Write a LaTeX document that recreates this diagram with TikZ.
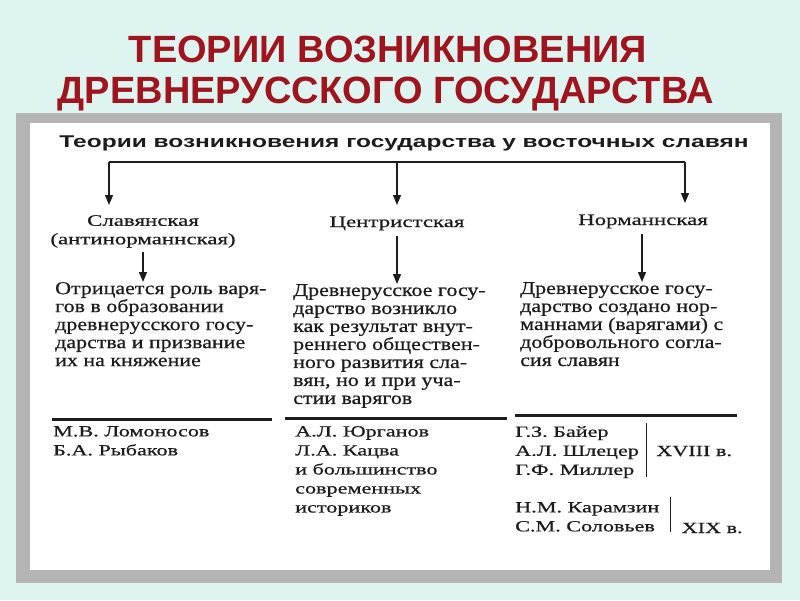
\documentclass[tikz,border=0pt]{standalone}
\usepackage{fontspec}
\setmainfont[FakeStretch=1.22, FakeBold=0.6]{Liberation Serif}
\newfontfamily\wideserif[FakeStretch=1.43, FakeBold=0.6]{Liberation Serif}
\newfontfamily\titlefont{Liberation Sans}
\newfontfamily\headfont[FakeStretch=1.44]{Liberation Sans}
\usetikzlibrary{arrows.meta}

\definecolor{bgcyan}{HTML}{DDF4F0}
\definecolor{framegray}{HTML}{B4B4B4}
\definecolor{titlered}{HTML}{A0141E}
\definecolor{inkgray}{HTML}{1C1C1C}

\tikzset{
  bodytext/.style={anchor=north west, align=left, inner sep=0pt, text=inkgray,
    font=\fontsize{18}{18}\selectfont},
  nametext/.style={anchor=north west, align=left, inner sep=0pt, text=inkgray,
    font=\wideserif\fontsize{15.5}{19}\selectfont},
  theory/.style={anchor=base, align=center, inner sep=0pt, text=inkgray,
    font=\wideserif\fontsize{16}{18.5}\selectfont},
  downarrow/.style={inkgray, line width=1.3pt, -{Stealth[length=10pt, width=8pt, inset=0pt]}},
  rulebar/.style={inkgray, line width=3pt},
}

\begin{document}
\begin{tikzpicture}[x=1pt,y=-1pt]
\useasboundingbox (0,0) rectangle (800,600);
\fill[bgcyan] (0,0) rectangle (800,600);
\fill[framegray] (16,113) rectangle (782,583);
\fill[white] (30,123) rectangle (770,570);

% title
\node[anchor=base, inner sep=0pt, text=titlered, font=\titlefont\bfseries\fontsize{38}{42}\selectfont] (title1) at (388,62) {ТЕОРИИ ВОЗНИКНОВЕНИЯ};
\node[anchor=base, inner sep=0pt, text=titlered, font=\titlefont\bfseries\fontsize{38}{42}\selectfont] (title2) at (386,103) {ДРЕВНЕРУССКОГО ГОСУДАРСТВА};

% header and branching
\node[anchor=base, inner sep=0pt, text=inkgray, font=\headfont\bfseries\fontsize{17}{20}\selectfont] (head) at (404,147) {Теории возникновения государства у восточных славян};
\coordinate (split1) at (109,162);
\coordinate (split2) at (397,162);
\coordinate (split3) at (685,162);
\draw[inkgray, line width=1.6pt] (split1) -- (split3);

\node[theory, anchor=north] (slav) at (143,215) {Славянская\\(антинорманнская)};
\node[theory] (centr) at (397,227) {Центристская};
\node[theory] (norm) at (643,225) {Норманнская};
\coordinate (slavtop) at (109,205);
\coordinate (centrtop) at (397,205);
\coordinate (normtop) at (685,203);
\draw[downarrow] (split1) -- (slavtop);
\draw[downarrow] (split2) -- (centrtop);
\draw[downarrow] (split3) -- (normtop);

% descriptions
\node[bodytext] (slavdesc) at (55,282) {Отрицается роль варя-\\гов в образовании\\древнерусского госу-\\дарства и призвание\\их на княжение};
\node[bodytext] (centrdesc) at (293,284) {Древнерусское госу-\\дарство возникло\\как результат внут-\\реннего обществен-\\ного развития сла-\\вян, но и при уча-\\стии варягов};
\node[bodytext] (normdesc) at (520,282) {Древнерусское госу-\\дарство создано нор-\\маннами (варягами) с\\добровольного согла-\\сия славян};
\draw[downarrow] ([yshift=-4pt]slav.south -| 143,0) -- (slavdesc.north -| 143,0);
\draw[downarrow] ([yshift=-5pt]centr.south) -- (centrdesc.north -| centr);
\draw[downarrow] ([yshift=-5pt]norm.south -| 642,0) -- (normdesc.north -| 642,0);

% rules
\draw[rulebar] (52,419) -- (272,419);
\draw[rulebar] (285,418) -- (507,418);
\draw[rulebar] (515,415) -- (737,415);

% historians
\node[nametext] (slavnames) at (53,426) {М.В. Ломоносов\\Б.А. Рыбаков};
\node[nametext] (centrnames) at (295,426) {А.Л. Юрганов\\Л.А. Кацва\\и большинство\\современных\\историков};
\node[nametext] (normnames18) at (515,426) {Г.З. Байер\\А.Л. Шлецер\\Г.Ф. Миллер};
\node[nametext] (normnames19) at (515,502) {Н.М. Карамзин\\С.М. Соловьев};
\draw[inkgray, line width=1.2pt] ([xshift=7pt,yshift=3pt]normnames18.north east) -- ([xshift=7pt,yshift=1pt]normnames18.south east);
\draw[inkgray, line width=1.2pt] ([xshift=11pt,yshift=5pt]normnames19.north east) -- ([xshift=11pt]normnames19.south east);
\node[nametext, anchor=base west] (cent18) at ([xshift=17pt]normnames18.east |- 0,456) {XVIII в.};
\node[nametext, anchor=base west] (cent19) at ([xshift=22pt]normnames19.east |- 0,533) {XIX в.};
\end{tikzpicture}
\end{document}
